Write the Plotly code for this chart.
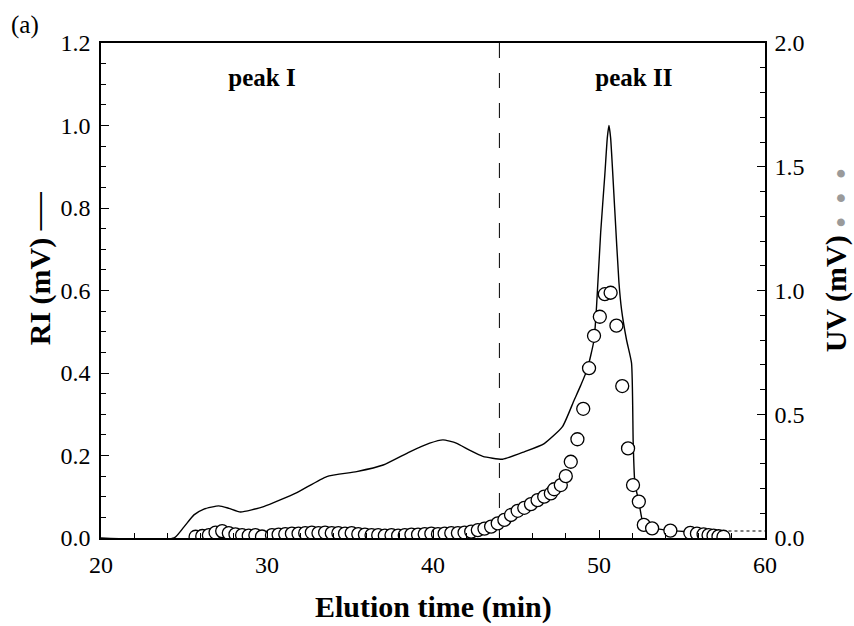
import plotly.graph_objects as go

# ---------------- data ----------------
ri_time = [20.0, 24.4, 25.0, 25.6, 26.2, 27.1, 27.7, 28.4, 29.8, 31.8, 33.6, 35.4, 37.0,
           38.6, 39.8, 40.6, 41.4, 42.2, 43.0, 44.2, 45.5, 46.7, 47.8, 48.5, 48.9,
           49.3, 49.7, 49.85, 50.1, 50.35, 50.5, 50.6, 50.7, 50.95, 51.2, 51.36, 51.66,
           51.96, 52.06, 52.16, 52.4, 52.7, 53.3, 54.3, 55.5, 56.5, 57.5]
ri_mv = [0.0, 0.0, 0.027, 0.056, 0.070, 0.078, 0.072, 0.063, 0.076, 0.110, 0.149, 0.161, 0.177,
         0.209, 0.230, 0.238, 0.230, 0.213, 0.198, 0.191, 0.209, 0.229, 0.270, 0.334, 0.370,
         0.410, 0.480, 0.560, 0.740, 0.880, 0.970, 1.000, 0.970, 0.795, 0.620, 0.553, 0.480,
         0.424, 0.230, 0.133, 0.088, 0.031, 0.024, 0.018, 0.015, 0.012, 0.010]

ri_tail_time = [57.8, 60.0]
ri_tail_mv = [0.017, 0.017]

uv_time = [25.7, 26.1, 26.5, 26.9, 27.3, 27.7, 28.1, 28.5, 28.9, 29.3, 29.7, 30.3, 30.7,
           31.1, 31.5, 31.9, 32.3, 32.7, 33.1, 33.5, 33.9, 34.3, 34.7, 35.1, 35.5, 35.9,
           36.3, 36.7, 37.1, 37.5, 37.9, 38.3, 38.7, 39.1, 39.5, 39.9, 40.3, 40.7, 41.1,
           41.5, 41.9, 42.3, 42.7, 43.1, 43.5, 43.9, 44.3, 44.7, 45.1, 45.5, 45.9, 46.3,
           46.7, 47.1, 47.3, 47.7, 48.0, 48.3, 48.7, 49.05, 49.4, 49.7, 50.05, 50.35,
           50.7, 51.05, 51.4, 51.75, 52.05, 52.4, 52.7, 53.2, 54.3, 55.5, 55.9, 56.3,
           56.6, 56.9, 57.2, 57.5]
uv_mv = [0.005, 0.008, 0.012, 0.022, 0.028, 0.020, 0.015, 0.012, 0.010, 0.012, 0.006, 0.012, 0.014,
         0.016, 0.018, 0.018, 0.020, 0.022, 0.020, 0.022, 0.020, 0.020, 0.018, 0.020, 0.016, 0.014,
         0.012, 0.012, 0.010, 0.012, 0.010, 0.012, 0.014, 0.014, 0.016, 0.018, 0.016, 0.018, 0.020,
         0.020, 0.022, 0.026, 0.032, 0.038, 0.046, 0.059, 0.073, 0.093, 0.110, 0.122, 0.137, 0.153,
         0.167, 0.180, 0.197, 0.214, 0.250, 0.308, 0.399, 0.522, 0.686, 0.817, 0.894, 0.985,
         0.991, 0.858, 0.614, 0.362, 0.214, 0.147, 0.053, 0.039, 0.030, 0.021, 0.018, 0.015,
         0.012, 0.010, 0.007, 0.005]

x_ticks = [20, 30, 40, 50, 60]
ri_ticks = [0.0, 0.2, 0.4, 0.6, 0.8, 1.0, 1.2]
uv_ticks = [0.0, 0.5, 1.0, 1.5, 2.0]
divider_time = 44.0
peak_labels = ["peak I", "peak II"]
peak_label_time = [29.7, 52.1]

SERIF = "Liberation Serif, Times New Roman, serif"

fig = go.Figure()

fig.add_trace(go.Scatter(
    x=ri_time, y=ri_mv, mode="lines",
    line=dict(color="black", width=1.4, shape="spline", smoothing=0.5),
    yaxis="y", showlegend=False, hoverinfo="skip"))
fig.add_trace(go.Scatter(
    x=ri_tail_time, y=ri_tail_mv, mode="lines",
    line=dict(color="black", width=1.2, dash="dot"),
    yaxis="y", showlegend=False, hoverinfo="skip"))
fig.add_trace(go.Scatter(
    x=[divider_time, divider_time], y=[0, 1.2], mode="lines",
    line=dict(color="black", width=1, dash="longdash"),
    yaxis="y", showlegend=False, hoverinfo="skip"))
fig.add_trace(go.Scatter(
    x=uv_time, y=uv_mv, mode="markers",
    marker=dict(size=13, color="white", line=dict(color="black", width=1.3)),
    yaxis="y2", showlegend=False, hoverinfo="skip"))

fig.add_trace(go.Scatter(
    x=peak_label_time, y=[1.11, 1.11], mode="text", text=peak_labels,
    textfont=dict(family=SERIF, size=25, color="black", weight="bold"),
    yaxis="y", showlegend=False, hoverinfo="skip"))

axis_common = dict(
    showgrid=False, zeroline=False, showline=True, linecolor="black", linewidth=1.5,
    ticks="inside", ticklen=8, tickwidth=1.3, tickcolor="black",
    tickfont=dict(family=SERIF, size=24, color="black"),
)

fig.update_layout(
    width=854, height=626,
    margin=dict(l=101, r=89, t=43, b=88),
    plot_bgcolor="white", paper_bgcolor="white",
    xaxis=dict(range=[20, 60], tickvals=x_ticks, mirror=True, ticklabelstandoff=4,
               minor=dict(dtick=2, ticks="inside", ticklen=5, tickcolor="black", tickwidth=1.2),
               **axis_common),
    yaxis=dict(range=[0, 1.2], tickvals=ri_ticks, tickformat=".1f", ticklabelstandoff=4,
               minor=dict(dtick=0.05, ticks="inside", ticklen=5, tickcolor="black", tickwidth=1.2),
               **axis_common),
    yaxis2=dict(range=[0, 2.0], tickvals=uv_ticks, tickformat=".1f", overlaying="y", side="right",
                ticklabelstandoff=3,
                minor=dict(dtick=0.1, ticks="inside", ticklen=5, tickcolor="black", tickwidth=1.2),
                **axis_common),
    annotations=[
        dict(text="<b>Elution time (min)</b>", xref="paper", yref="paper", x=0.5, y=-0.139,
             showarrow=False, xanchor="center", yanchor="middle",
             font=dict(family=SERIF, size=30, color="black")),
        dict(text="<b>RI (mV)</b> <span style='font-weight:normal;font-size:38px'>—</span>",
             xref="paper", yref="paper",
             x=-0.0964, y=0.545, textangle=-90,
             showarrow=False, xanchor="center", yanchor="middle",
             font=dict(family=SERIF, size=30, color="black")),
        dict(text="<b>UV (mV)</b>&nbsp;<span style='color:#9a9a9a;font-size:18px'>●&nbsp;&nbsp;&nbsp;●&nbsp;&nbsp;&nbsp;●</span>",
             xref="paper", yref="paper", x=1.106, y=0.562, textangle=-90,
             showarrow=False, xanchor="center", yanchor="middle",
             font=dict(family=SERIF, size=30, color="black")),
        dict(text="(a)", xref="paper", yref="paper", x=-0.1145, y=1.036,
             showarrow=False, xanchor="center", yanchor="middle",
             font=dict(family=SERIF, size=25, color="black")),
    ],
)

fig.write_html("out.html", config={"displayModeBar": False},
               post_script="document.body.style.margin='0';")
